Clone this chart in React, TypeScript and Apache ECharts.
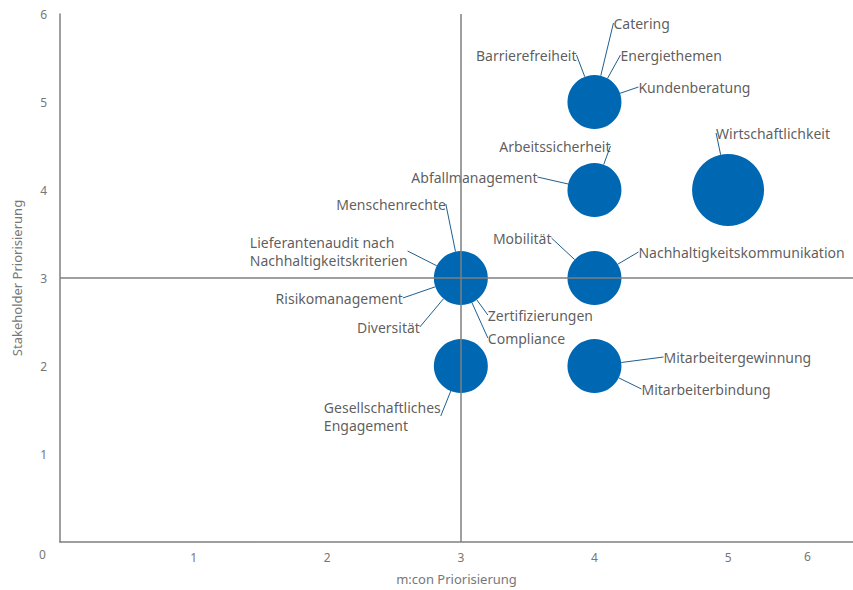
import React, { useEffect, useRef } from "react";
import * as echarts from "echarts";

// Bubbles: x = m:con Priorisierung, y = Stakeholder Priorisierung, weight = bubble weight
const bubbleX = [4, 4, 5, 3, 4, 3, 4];
const bubbleY = [5, 4, 4, 3, 3, 2, 2];
const bubbleWeight = [3, 3, 4, 3, 3, 3, 3];

// Topics and which bubble they belong to
const topics = [
  "Catering",
  "Barrierefreiheit",
  "Energiethemen",
  "Kundenberatung",
  "Arbeitssicherheit",
  "Abfallmanagement",
  "Wirtschaftlichkeit",
  "Menschenrechte",
  "Lieferantenaudit nach\nNachhaltigkeitskriterien",
  "Risikomanagement",
  "Diversität",
  "Zertifizierungen",
  "Compliance",
  "Mobilität",
  "Nachhaltigkeitskommunikation",
  "Gesellschaftliches\nEngagement",
  "Mitarbeitergewinnung",
  "Mitarbeiterbindung",
];
const topicBubble = [0, 0, 0, 0, 1, 1, 2, 3, 3, 3, 3, 3, 3, 4, 4, 5, 6, 6];

const xTickLabels = ["0", "1", "2", "3", "4", "5", "6"];
const yTickLabels = ["0", "1", "2", "3", "4", "5", "6"];

// label layout (offset from bubble centre in px, alignment)
const labelLayout: [number, number, string][] = [
  [19, -79, "left"],
  [-18, -47, "right"],
  [26, -47, "left"],
  [44, -15, "left"],
  [16, -44, "right"],
  [-57, -13, "right"],
  [-12, -57, "left"],
  [-15, -74, "right"],
  [-211, -27, "left"],
  [-58, 20, "right"],
  [-41, 49, "right"],
  [27, 37, "left"],
  [27, 60, "left"],
  [-43, -40, "right"],
  [44, -26, "left"],
  [-137, 50, "left"],
  [69, -9, "left"],
  [47, 23, "left"],
];

const SIZE_UNIT = 18;
const BLUE = "#0068b3";
const AXIS = "#7f7f7f";
const FONT = "Noto Sans";
const X_MAX = 5.935; // visible end of the x axis

export default function App() {
  const ref = useRef<HTMLDivElement>(null);
  useEffect(() => {
    if (!ref.current) return;
    const chart = echarts.init(ref.current, undefined, { renderer: "svg" });
    const bubbles = bubbleX.map((x, i) => [x, bubbleY[i], bubbleWeight[i]]);
    const topicData = topics.map((name, i) => {
      const b = topicBubble[i];
      const [dx, dy, align] = labelLayout[i];
      return {
        name,
        value: [bubbleX[b], bubbleY[b], bubbleWeight[b]],
        label: { offset: [dx, dy], align },
      };
    });
    chart.setOption({
      animation: false,
      textStyle: { fontFamily: FONT },
      grid: { left: 60, right: 0, top: 14, bottom: 47 },
      xAxis: {
        type: "value",
        min: 0,
        max: X_MAX,
        interval: 1,
        name: "m:con Priorisierung",
        nameLocation: "middle",
        nameGap: 30,
        nameTextStyle: { color: "#777", fontSize: 13, fontFamily: FONT },
        axisLine: { show: true, onZero: false, lineStyle: { color: AXIS, width: 1.5 } },
        axisTick: { show: false },
        splitLine: { show: false },
        axisLabel: {
          color: "#777",
          fontSize: 12,
          margin: 9,
          fontFamily: FONT,
          showMaxLabel: false,
          formatter: (v: number) => (v === 0 || v > 5 ? "" : xTickLabels[v]),
        },
      },
      yAxis: {
        type: "value",
        min: 0,
        max: 6,
        interval: 1,
        name: "Stakeholder Priorisierung",
        nameLocation: "middle",
        nameGap: 37,
        nameTextStyle: { color: "#777", fontSize: 13, fontFamily: FONT },
        axisLine: { show: true, onZero: false, lineStyle: { color: AXIS, width: 1.5 } },
        axisTick: { show: false },
        splitLine: { show: false },
        axisLabel: {
          color: "#777",
          fontSize: 12,
          margin: 13,
          fontFamily: FONT,
          formatter: (v: number) => (v === 0 ? "" : yTickLabels[v]),
        },
      },
      graphic: [
        {
          type: "text",
          left: 39,
          top: 548,
          style: { text: xTickLabels[0], fill: "#777", font: `12px ${FONT}` },
        },
        {
          type: "text",
          left: 804,
          top: 550,
          style: { text: xTickLabels[6], fill: "#777", font: `12px ${FONT}` },
        },
      ],
      series: [
        {
          type: "scatter",
          data: [],
          z: 1,
          silent: true,
          markLine: {
            silent: true,
            symbol: ["none", "none"],
            label: { show: false },
            emphasis: { disabled: true },
            lineStyle: { color: AXIS, type: "solid", width: 1.5 },
            data: [{ xAxis: 3 }, { yAxis: 3 }],
          },
        },
        {
          type: "scatter",
          z: 3,
          silent: true,
          data: bubbles,
          symbolSize: (d: number[]) => d[2] * SIZE_UNIT,
          itemStyle: { color: BLUE, opacity: 1 },
          emphasis: { disabled: true },
        },
        {
          type: "scatter",
          z: 4,
          silent: true,
          data: topicData,
          symbolSize: (d: number[]) => d[2] * SIZE_UNIT,
          itemStyle: { color: "rgba(0,0,0,0)" },
          emphasis: { disabled: true },
          label: {
            show: true,
            position: "inside",
            formatter: "{b}",
            color: "#333333",
            fontSize: 14,
            lineHeight: 18,
            fontFamily: FONT,
            verticalAlign: "middle",
          },
          labelLine: {
            show: true,
            length2: 0,
            lineStyle: { color: "#1f5f8f", width: 1 },
          },
        },
      ],
    });
    return () => chart.dispose();
  }, []);
  return <div ref={ref} style={{ width: 853, height: 590, position: "absolute", left: 0, top: 0 }} />;
}
